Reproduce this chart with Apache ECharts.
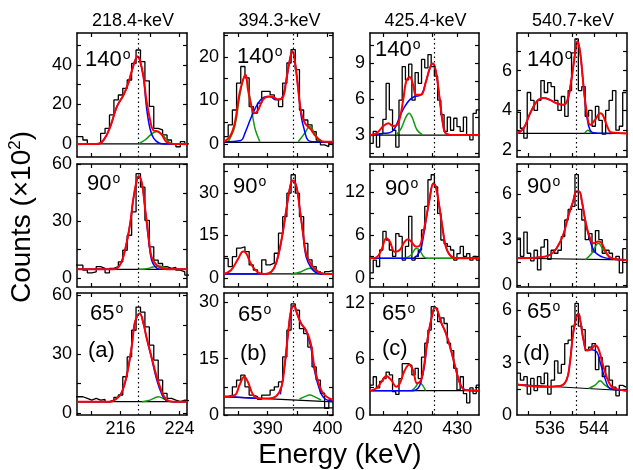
<!DOCTYPE html>
<html>
<head>
<meta charset="utf-8">
<script src="https://cdn.jsdelivr.net/npm/echarts@6/dist/echarts.min.js"></script>
<style>
html, body { margin: 0; padding: 0; background: #fff; }
#chart { width: 633px; height: 470px; }
</style>
</head>
<body>
<div id="chart"></div>
<script>
var chart = echarts.init(document.getElementById('chart'));
var FONT = '"Liberation Sans", Arial, sans-serif';

// column titles and gamma energies
var titles = ['218.4-keV', '394.3-keV', '425.4-keV', '540.7-keV'];
var gammaE = [218.4, 394.3, 425.4, 540.7];
var angles = ['140', '90', '65'];
var tags = ['(a)', '(b)', '(c)', '(d)'];

// energy axes, one per column
var xMin = [210.1, 382.7, 412.4, 530];
var xMax = [225, 400.9, 434.4, 550];
var xTicks = [[212, 216, 220, 224], [385, 390, 395, 400], [415, 420, 425, 430], [532, 536, 540, 544, 548]];
var xLabels = [[216, 224], [390, 400], [420, 430], [536, 544]];

// histogram binning per column
var binStart = [209.7, 382.7, 412.4, 530];
var binWidth = [0.6, 0.7, 0.65, 0.62];

// counts axes, row by row
var yMin = [[-6.6, -3, 1.17, 1.65], [-4.7, -3.2, -1.26, -0.13], [-1, 0, 0, 0]];
var yMax = [[56.2, 25.5, 11.5, 7.9], [60.2, 40.2, 15.9, 8], [61.2, 32.5, 13.07, 7]];
var yLabels = [
  [[0, 20, 40], [0, 10, 20], [3, 6, 9], [2, 4, 6]],
  [[0, 30, 60], [0, 15, 30], [0, 6, 12], [0, 3, 6]],
  [[0, 30, 60], [0, 15, 30], [0, 6, 12], [0, 3, 6]]
];
var yTicks = [
  [[0, 10, 20, 30, 40, 50], [0, 5, 10, 15, 20, 25], [1.5, 3, 4.5, 6, 7.5, 9, 10.5], [2, 3, 4, 5, 6, 7]],
  [[0, 15, 30, 45, 60], [0, 7.5, 15, 22.5, 30, 37.5], [0, 3, 6, 9, 12, 15], [0, 1.5, 3, 4.5, 6, 7.5]],
  [[0, 15, 30, 45, 60], [0, 7.5, 15, 22.5, 30], [3, 6, 9, 12], [1.5, 3, 4.5, 6]]
];

// measured spectra (x10^2 counts per bin)
var counts140 = [
  [3.7, 3.7, 2, 0, 0, 0.3, 5.4, 7.9, 14.7, 22.3, 24.8, 28.2, 32.4, 40.8, 47.6, 41.7, 32, 19, 7.9, 7.1, 4.6, 2, 0, -1.4, 1.2, 0],
  [1.7, 4.4, 7.8, 14, 17.8, 15.2, 8.6, 7.1, 9.4, 12.1, 12.1, 11.3, 10.2, 8.6, 14, 18.6, 21.7, 17.1, 7.8, 5.5, 4.4, 2.8, 0.9, -0.2, -0.6, 0.2],
  [2.3, 3.3, 2, 3.1, 4.3, 7.3, 5.1, 3.4, 2, 5.9, 8.7, 7.6, 8.9, 5.9, 8.2, 7.3, 9.3, 8.6, 9.7, 8.7, 7.9, 5.9, 4.7, 3.3, 4.5, 3.4, 4.4, 3.7, 3.3, 4.5, 3, 2.6, 4.8, 5.1],
  [3.9, 3.1, 2.6, 4.9, 4.5, 4, 4.5, 5.5, 4.9, 5.4, 5.2, 4.5, 4, 4.7, 3.7, 5, 6.9, 7.6, 5, 5.2, 3.7, 4, 3.2, 4.2, 3.5, 2.8, 4, 4.5, 5, 3, 3.2, 4.9]
];
var counts90 = [
  [6.8, 6.8, 4.2, 2.8, 3.3, 6, 5.1, 2.8, 5.1, 6, 8.6, 14.7, 22.6, 34.9, 55.1, 48, 30.5, 16.5, 9.5, 7.7, 6, 5.1, 5.6, 4.2, 3.3, 1.6],
  [6.9, 4, 7.5, 10.5, 11, 9.3, 4.6, 2.8, 1.6, 6.4, 4.6, 5.2, 8.7, 15.8, 21.6, 29.9, 36.4, 29.9, 21.6, 12.2, 6.4, 4, 2.2, 1.4, 2.2, 2.6],
  [0.7, 2.5, 1.6, 3.9, 6.5, 5.3, 3.9, 3, 6.2, 5.8, 2.5, 4.4, 8.6, 2.5, 3, 3.9, 6.7, 10, 13.7, 14.4, 12.7, 9, 5.3, 4.8, 4.4, 3.9, 2.5, 3.4, 4.4, 3, 3.4, 2.5, 3, 2.5],
  [3.1, 1.9, 3.5, 2.1, 1.6, 2.3, 1, 2.5, 3, 1.7, 2.3, 2.1, 2.3, 3.2, 4.3, 5, 5.2, 7.3, 5, 4.3, 3, 3.4, 2.2, 3.6, 3, 2.1, 2.3, 2.1, 1.7, 1.9, 0.8, 2.4]
];
var counts65 = [
  [8.3, 8.3, 7.5, 6.6, 7.5, 6.6, 6.9, 5.8, 6.6, 8, 9.2, 18.5, 28.6, 42.2, 54, 51.5, 43.9, 34.6, 27, 16.8, 10, 7.5, 6.6, 5.8, 6.6, 6.3],
  [4.9, 5.3, 7.5, 9.3, 10.6, 7.5, 5.3, 4.9, 4.2, 5.3, 5.3, 6.6, 7.5, 8.8, 15.5, 22.6, 29.6, 27.9, 23, 21.7, 18.1, 12.8, 9.3, 5.8, 1.8, 4],
  [3.2, 4.1, 2.9, 3.6, 3.9, 4.6, 4.3, 2.5, 2.2, 3.9, 5.5, 5.5, 5.3, 4.3, 5, 3.9, 6.2, 7.7, 9.1, 11.6, 11.4, 10, 10.4, 9.8, 7.7, 6.9, 5, 2.7, 4.1, 2.3, 1.3, 2.9, 2.3, 3.2],
  [2.4, 2, 2.2, 1.2, 2.1, 1.4, 2.2, 1.8, 2.4, 1.2, 2, 3.1, 2.4, 2.9, 4.1, 4.3, 5.1, 6.4, 5.1, 4.9, 3.7, 3.9, 4.1, 2.6, 3.3, 2.2, 2.8, 2, 1.6, 1.1, 1.7, 1.6]
];

// total fits (red)
var red140 = [
  [[210.1, 0], [212.8, 0], [213.7, 2], [214.6, 8.7], [215.5, 18.9], [216.4, 24.8], [217.05, 30.8], [217.5, 36.7], [218, 42.6], [218.3, 44.3], [218.6, 42.6], [219.1, 34.1], [219.5, 22.3], [220, 12.2], [220.4, 7.1], [221.1, 6.3], [221.6, 4.6], [222.2, 1.1], [223.1, 0], [225, 0]],
  [[382.7, 0.5], [383.7, 1.7], [384.5, 4.8], [385.3, 11.7], [385.9, 14.8], [386.3, 15.9], [386.7, 12.5], [387.3, 8.6], [387.8, 7.1], [388.4, 7.8], [389.2, 10.2], [390.1, 10.9], [390.9, 10.8], [391.7, 10.2], [392.6, 10.9], [393.1, 14.8], [393.7, 19.4], [394.1, 21.3], [394.5, 19.4], [395.1, 12.5], [395.6, 7.1], [396.2, 4.8], [396.7, 4], [397.3, 3.2], [397.8, 2.1], [398.7, 0.9], [399.5, 0.5], [400.9, 0.5]],
  [[412.4, 3], [413.7, 3.14], [415.1, 3.75], [416.1, 3.98], [417.1, 3.75], [418.1, 3.98], [419.1, 5.93], [419.7, 7.47], [420.4, 7.83], [421.1, 7.19], [421.7, 6.35], [422.7, 6.35], [423.7, 7.47], [424.5, 8.59], [425.1, 8.95], [425.7, 8.31], [426.4, 6.21], [427.1, 3.98], [427.7, 3.14], [429.1, 3], [434.4, 3]],
  [[530, 2.84], [531.2, 3.1], [532.4, 3.86], [533.6, 4.45], [534.8, 4.62], [536, 4.53], [537.2, 4.36], [538.4, 4.28], [539.2, 4.53], [539.8, 5.38], [540.4, 6.56], [540.8, 7.32], [541, 7.49], [541.5, 6.89], [542.1, 5.21], [542.7, 3.86], [543.3, 3.27], [544.2, 3.52], [545.1, 3.86], [545.6, 3.77], [546.3, 3.27], [547.2, 2.88], [550, 2.84]]
];
var red90 = [
  [[210.1, 4.6], [215, 4.6], [215.9, 6.8], [216.6, 14.7], [217.3, 28.8], [217.7, 41], [218.2, 51.6], [218.45, 53.7], [218.9, 49.8], [219.3, 37.5], [219.8, 21.8], [220.2, 11.2], [220.9, 6.8], [221.8, 5.1], [222.7, 4.6], [225, 4.6]],
  [[382.7, 1.4], [383.9, 2.8], [385.1, 6.9], [385.9, 9.3], [386.4, 8.7], [387.3, 4.6], [388.4, 1.9], [389.5, 1.4], [390.6, 2.2], [391.4, 5.2], [392.3, 13.4], [393.1, 24], [393.8, 32.8], [394.2, 34.4], [394.8, 32.2], [395.3, 25.2], [395.9, 15.8], [396.4, 8.7], [397.3, 4.6], [398.4, 2.2], [399.5, 1.4], [400.9, 1.4]],
  [[412.4, 2.74], [413.7, 2.88], [414.7, 3.9], [415.7, 5.53], [416.4, 5.07], [417.4, 3.67], [418.4, 3.9], [419.4, 5.07], [420.1, 5.4], [420.7, 5.07], [421.7, 4.37], [422.4, 4.47], [423.4, 7.16], [424.4, 10.9], [425.2, 13.2], [425.7, 12.7], [426.4, 9.95], [427.1, 6.7], [427.7, 4.37], [428.7, 3.07], [430.1, 2.74], [434.4, 2.74]],
  [[530, 1.77], [534.2, 1.83], [536, 1.99], [537.2, 2.43], [538.4, 3.31], [539.3, 4.53], [540.2, 5.52], [540.8, 6.18], [541.3, 6.18], [541.8, 5.52], [542.4, 4.3], [543, 3.42], [543.9, 2.76], [544.8, 2.87], [545.4, 2.76], [546.3, 2.1], [547.2, 1.77], [550, 1.66]]
];
var red65 = [
  [[210.1, 5.8], [214.6, 5.8], [215.5, 7.5], [216.1, 10], [216.8, 18.5], [217.5, 33.7], [217.9, 45.6], [218.3, 49.8], [218.6, 50.7], [219.1, 45.6], [219.5, 38.8], [220.2, 28.6], [220.9, 18.5], [221.6, 10.8], [222.2, 6.9], [223.1, 5.8], [225, 5.8]],
  [[382.7, 4.9], [384.5, 5.3], [385.3, 8], [386.1, 10.2], [386.7, 8.8], [387.6, 5.3], [388.7, 4.4], [390.1, 4.4], [391.4, 5], [392.3, 7.5], [392.8, 12.8], [393.4, 21.7], [393.9, 27.9], [394.4, 29.2], [394.9, 27], [395.6, 24.3], [396.4, 22.6], [397.2, 19], [397.8, 12.8], [398.7, 7.5], [399.5, 5.3], [400.9, 4]],
  [[412.4, 2.61], [413.7, 2.86], [414.7, 3.55], [415.7, 4.18], [416.7, 3.73], [417.7, 3.03], [418.4, 3.38], [419.4, 4.77], [420.3, 5.37], [421.1, 4.77], [421.9, 3.38], [422.7, 3.73], [423.4, 5.64], [424.1, 8.43], [425.1, 11.05], [425.5, 11.57], [426.1, 11.05], [426.7, 10], [427.7, 8.78], [428.7, 7.04], [429.7, 4.95], [430.7, 3.2], [431.7, 2.68], [434.4, 2.61]],
  [[530, 1.75], [535.4, 1.62], [537.8, 1.66], [539, 2], [539.6, 2.95], [540.2, 4.67], [540.8, 5.62], [541.2, 5.81], [541.5, 5.43], [542.1, 4.29], [542.7, 3.71], [543.6, 3.81], [544.2, 4], [544.8, 3.81], [545.4, 3.14], [546.3, 2.19], [547.2, 1.62], [548.4, 1.47], [550, 1.39]]
];

// main-line components (blue)
var blue140 = [
  [[210.1, 0], [212.8, 0], [213.7, 2], [214.6, 8.7], [215.5, 18.9], [216.4, 24.8], [217.05, 30.8], [217.5, 36.7], [218, 42.6], [218.3, 44.3], [218.6, 42.6], [219.1, 34.1], [219.5, 19], [220, 7.6], [220.5, 2.8], [221.2, 0.5], [222, 0], [225, 0]],
  [[382.7, 0.5], [385.5, 0.8], [386.2, 2.5], [387.3, 6.3], [388.4, 9.4], [389.5, 10.8], [390.3, 10.9], [391.4, 10.2], [392.3, 10.5], [393.1, 14.6], [393.7, 19.4], [394.1, 21.3], [394.5, 19.4], [395.1, 12.5], [395.6, 6.3], [396.2, 2.8], [396.7, 0.9], [397.8, 0.5], [400.9, 0.5]],
  [[412.4, 3], [415.1, 3.14], [416.4, 3.2], [417.4, 3.56], [418.4, 4.54], [419.4, 5.37], [420.4, 5.93], [421.4, 6.21], [422.7, 6.35], [423.7, 7.47], [424.5, 8.59], [425.1, 8.95], [425.7, 8.31], [426.4, 6.21], [427.1, 3.98], [427.7, 3.14], [429.1, 3], [434.4, 3]],
  [[530, 2.84], [531.2, 3.1], [532.4, 3.86], [533.6, 4.45], [534.8, 4.62], [536, 4.53], [537.2, 4.36], [538.4, 4.28], [539.2, 4.53], [539.8, 5.38], [540.4, 6.56], [540.8, 7.32], [541, 7.49], [541.5, 6.89], [542.1, 5.21], [542.7, 3.7], [543.3, 3], [544.2, 2.86], [547.2, 2.84]]
];
var blue90 = [
  [[210.1, 4.6], [215, 4.6], [215.9, 6.8], [216.6, 14.7], [217.3, 28.8], [217.7, 41], [218.2, 51.6], [218.45, 53.7], [218.9, 49.8], [219.3, 37.5], [219.8, 20], [220.2, 9.5], [220.7, 6], [221.3, 4.6], [225, 4.6]],
  [[382.7, 1.4], [389.5, 1.4], [390.6, 2.2], [391.4, 5.2], [392.3, 13.4], [393.1, 24], [393.8, 32.8], [394.2, 34.4], [394.8, 32.2], [395.3, 25.2], [395.9, 15.4], [396.4, 7.5], [397.3, 3.4], [398.4, 1.6], [399.5, 1.4], [400.9, 1.4]],
  [[412.4, 2.74], [421.1, 2.74], [422, 3.2], [422.7, 4.14], [423.4, 6.7], [424.4, 10.9], [425.2, 13.2], [425.7, 12.7], [426.4, 9.95], [427.1, 6.7], [427.7, 4.37], [428.7, 3.07], [430.1, 2.74], [434.4, 2.74]],
  [[530, 1.77], [534.2, 1.83], [536, 1.99], [537.2, 2.43], [538.4, 3.31], [539.3, 4.53], [540.2, 5.52], [540.8, 6.18], [541.3, 6.18], [541.8, 5.52], [542.4, 4.3], [543, 3.3], [543.9, 2.32], [544.8, 1.99], [545.7, 1.83], [547.2, 1.72], [550, 1.66]]
];
var blue65 = [
  [[210.1, 5.8], [214.6, 5.8], [215.5, 7.5], [216.1, 10], [216.8, 18.5], [217.5, 33.7], [217.9, 45.6], [218.3, 49.8], [218.6, 50.7], [219.1, 45.6], [219.5, 38.8], [220.2, 28], [220.9, 17], [221.6, 9.5], [222.2, 6.3], [223.1, 5.8], [225, 5.8]],
  [[382.7, 4.9], [388.4, 4.4], [390, null], [392.1, 5.5], [392.8, 12.8], [393.4, 21.7], [393.9, 27.9], [394.4, 29.2], [394.9, 27], [395.6, 24.3], [396.4, 22.4], [397.2, 18.1], [397.8, 11.9], [398.7, 6.6], [399.5, 4.4], [400.9, 3.6]],
  [[412.4, 2.61], [421.1, 2.61], [422.1, 2.86], [422.7, 3.55], [423.4, 5.3], [424.1, 8.43], [425.1, 11.05], [425.5, 11.57], [426.1, 11.05], [426.7, 10], [427.7, 8.78], [428.7, 7.04], [429.7, 4.95], [430.7, 3.2], [431.7, 2.68], [434.4, 2.61]],
  [[530, 1.75], [535.4, 1.62], [537.8, 1.66], [539, 2], [539.6, 2.95], [540.2, 4.67], [540.8, 5.62], [541.2, 5.81], [541.5, 5.43], [542.1, 4.29], [542.7, 3.71], [543.6, 3.75], [544.5, 3.62], [545.1, 3.05], [546, 2.1], [546.9, 1.52], [548.4, 1.45], [550, 1.39]]
];

// contaminant components (green)
var green140 = [
  [[218.4, 0], [219.3, 2], [220.2, 5], [220.9, 6.3], [221.6, 5], [222.5, 1.1], [223.2, 0]],
  [[383.4, 0.5], [384.5, 4], [385.3, 10.9], [386.2, 15.7], [387, 10.9], [387.8, 4], [388.7, 0.5], [391, null], [395.1, 0.5], [396.2, 2.5], [397, 4], [397.8, 2.5], [398.7, 0.5]],
  [[417.7, 3], [418.7, 3.56], [419.7, 4.54], [420.3, 4.82], [420.9, 4.48], [421.9, 3.42], [423.1, 3]],
  [[542.3, 2.84], [542.9, 3.0], [543.5, 2.84]]
];
var green90 = [
  [[218.4, 4.6], [219.5, 4.9], [220.4, 5.8], [221.2, 6.4], [222, 5.6], [222.7, 4.6]],
  [[393.9, 1.4], [395.6, 2.2], [397, 3.4], [398.4, 2.2], [399.5, 1.4]],
  [[419.4, 2.74], [420.7, 3.2], [421.7, 4.1], [422.4, 3.9], [423.2, 3], [424, 2.74], [434.4, 2.74]],
  [[542.4, 1.66], [543.6, 2.1], [544.8, 2.76], [545.7, 2.32], [546.9, 1.77]]
];
var green65 = [
  [[218.9, 5.8], [220, 6.6], [221.1, 8.3], [222, 7], [222.7, 5.8]],
  [[395.3, 4.2], [396.2, 4.9], [397, 5.3], [397.8, 4.9], [398.9, 4]],
  [[420.8, 2.61], [421.6, 3], [422.3, 3.5], [423, 3.2], [423.6, 2.61]],
  [[543, 1.52], [544.2, 1.71], [545.1, 1.96], [546, 1.71], [547.2, 1.47]]
];

// background lines [left, right]
var base140 = [[0, 0], [0.35, 0.35], [3, 3], [2.84, 2.84]];
var base90 = [[4.6, 4.6], [1.4, 1.4], [2.74, 2.74], [1.77, 1.66]];
var base65 = [[5.8, 5.8], [4.9, 3.5], [2.61, 2.61], [1.75, 1.39]];
var floor65 = [null, [1.9, 1.9], null, null];

// layout
var gridLeft = [77, 224, 370, 517];
var gridWidth = [110, 109, 109, 110];
var gridTop = [33, 164, 293];
var gridHeight = [124, 123, 122];
var angleX = [[85, 237, 375, 527], [87, 233, 385, 527], [90, 238, 382, 527]];
var angleY = [[48, 45, 38, 48], [172, 175, 177, 175], [302, 303, 302, 300]];
var tagX = [88, 240, 382, 523];
var tagY = [340, 343, 338, 343];

var rowsData = [
  { counts: counts140, red: red140, blue: blue140, green: green140, base: base140 },
  { counts: counts90, red: red90, blue: blue90, green: green90, base: base90 },
  { counts: counts65, red: red65, blue: blue65, green: green65, base: base65 }
];

function steps(c, counts) {
  var pts = counts.map(function (v, i) { return [binStart[c] + i * binWidth[c], v]; });
  pts.push([binStart[c] + counts.length * binWidth[c], counts[counts.length - 1]]);
  return pts;
}

function ticks(vals) {
  return { show: true, inside: true, length: 4, customValues: vals, lineStyle: { color: '#000', width: 1.2 } };
}

var axisLine = { show: true, onZero: false, lineStyle: { color: '#000', width: 1.5 } };
var labelStyle = { color: '#000', fontSize: 18, fontFamily: FONT };

var grids = [], xAxes = [], yAxes = [], series = [];

for (var r = 0; r < 3; r++) {
  for (var c = 0; c < 4; c++) {
    var g = r * 4 + c;
    var d = rowsData[r];
    grids.push({ left: gridLeft[c], top: gridTop[r], width: gridWidth[c], height: gridHeight[r] });

    xAxes.push({
      type: 'value', gridIndex: g, position: 'bottom', min: xMin[c], max: xMax[c],
      axisLine: axisLine, axisTick: ticks(xTicks[c]), splitLine: { show: false },
      axisLabel: r === 2 ? Object.assign({ show: true, margin: 5, customValues: xLabels[c] }, labelStyle) : { show: false }
    });
    xAxes.push({
      type: 'value', gridIndex: g, position: 'top', min: xMin[c], max: xMax[c],
      axisLine: axisLine, axisTick: ticks(xTicks[c]), splitLine: { show: false }, axisLabel: { show: false }
    });
    yAxes.push({
      type: 'value', gridIndex: g, position: 'left', min: yMin[r][c], max: yMax[r][c],
      axisLine: axisLine, axisTick: ticks(yTicks[r][c]), splitLine: { show: false },
      axisLabel: Object.assign({ show: true, margin: 5, customValues: yLabels[r][c] }, labelStyle)
    });
    yAxes.push({
      type: 'value', gridIndex: g, position: 'right', min: yMin[r][c], max: yMax[r][c],
      axisLine: axisLine, axisTick: ticks(yTicks[r][c]), splitLine: { show: false }, axisLabel: { show: false }
    });

    var xi = 2 * g, yi = 2 * g;
    series.push({
      type: 'line', xAxisIndex: xi, yAxisIndex: yi, data: steps(c, d.counts[c]), step: 'end',
      symbol: 'none', lineStyle: { color: '#000', width: 1.3 },
      markLine: {
        silent: true, symbol: ['none', 'none'], label: { show: false },
        lineStyle: { color: '#000', type: [1.5, 3], width: 1.2 },
        data: [{ xAxis: gammaE[c] }]
      }
    });
    series.push({
      type: 'line', xAxisIndex: xi, yAxisIndex: yi, symbol: 'none',
      data: [[xMin[c], d.base[c][0]], [xMax[c], d.base[c][1]]], lineStyle: { color: '#000', width: 1.2 }
    });
    if (r === 2 && floor65[c]) {
      series.push({
        type: 'line', xAxisIndex: xi, yAxisIndex: yi, symbol: 'none',
        data: [[xMin[c], floor65[c][0]], [xMax[c], floor65[c][1]]], lineStyle: { color: '#000', width: 1.2 }
      });
    }
    series.push({
      type: 'line', xAxisIndex: xi, yAxisIndex: yi, symbol: 'none', smooth: 0.4,
      data: d.green[c], lineStyle: { color: '#119911', width: 1.5 }
    });
    series.push({
      type: 'line', xAxisIndex: xi, yAxisIndex: yi, symbol: 'none', smooth: 0.4,
      data: d.blue[c], lineStyle: { color: '#0000ff', width: 1.5 }
    });
    series.push({
      type: 'line', xAxisIndex: xi, yAxisIndex: yi, symbol: 'none', smooth: 0.4,
      data: d.red[c], lineStyle: { color: '#ff0000', width: 2 }
    });
  }
}

var graphics = [];
for (var c2 = 0; c2 < 4; c2++) {
  graphics.push({
    type: 'text', x: gridLeft[c2] + gridWidth[c2] / 2 + 1, y: 21,
    style: { text: titles[c2], fill: '#000', font: '18px ' + FONT, align: 'center', verticalAlign: 'middle' }
  });
  graphics.push({
    type: 'text', x: tagX[c2], y: tagY[c2],
    style: { text: tags[c2], fill: '#000', font: '22px ' + FONT, align: 'left', verticalAlign: 'top' }
  });
  for (var r2 = 0; r2 < 3; r2++) {
    graphics.push({
      type: 'text', x: angleX[r2][c2], y: angleY[r2][c2],
      style: {
        text: '{n|' + angles[r2] + '}{d|o}', align: 'left', verticalAlign: 'top', fill: '#000',
        rich: {
          n: { fontSize: 22, fontFamily: FONT, fill: '#000', lineHeight: 24 },
          d: { fontSize: 14, fontFamily: FONT, fill: '#000', verticalAlign: 'top', lineHeight: 24, padding: [0, 0, 10, 1] }
        }
      }
    });
  }
}
graphics.push({
  type: 'text', x: 22, y: 217, rotation: Math.PI / 2,
  style: {
    text: '{a|Counts (×10}{s|2}{a|)}', align: 'center', verticalAlign: 'middle', fill: '#000',
    rich: {
      a: { fontSize: 28, fontFamily: FONT, fill: '#000', lineHeight: 32 },
      s: { fontSize: 17, fontFamily: FONT, fill: '#000', lineHeight: 32, padding: [0, 0, 13, 0] }
    }
  }
});
graphics.push({
  type: 'text', x: 340, y: 455,
  style: { text: 'Energy (keV)', fill: '#000', font: '28px ' + FONT, align: 'center', verticalAlign: 'middle' }
});

chart.setOption({
  animation: false,
  backgroundColor: '#fff',
  grid: grids,
  xAxis: xAxes,
  yAxis: yAxes,
  series: series,
  graphic: graphics
});
</script>
</body>
</html>
